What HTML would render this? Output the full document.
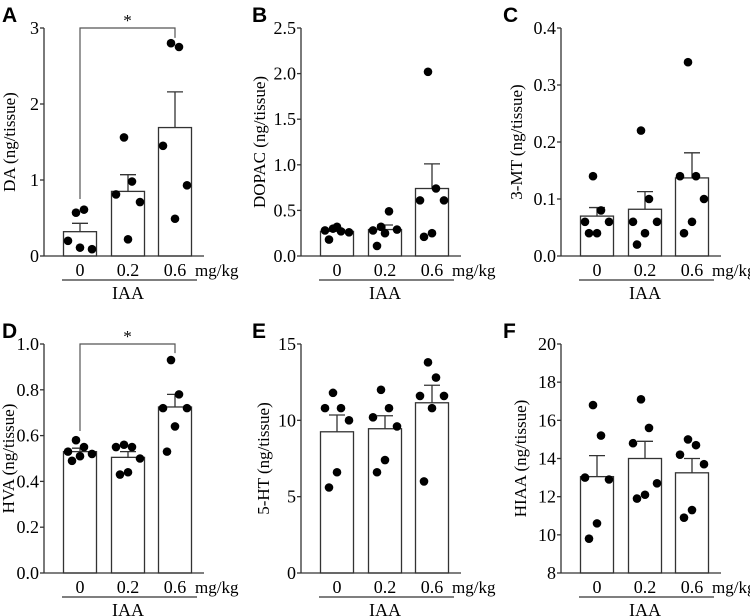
<!DOCTYPE html>
<html><head><meta charset="utf-8"><style>
body{margin:0;background:#fff;}
svg{display:block;font-family:"Liberation Serif",serif;}
.lt{font-family:"Liberation Sans",sans-serif;font-weight:bold;font-size:21px;}
</style></head><body>
<svg id="fig" width="750" height="616" viewBox="0 0 750 616"></svg>
<script>
const categories=["0","0.2","0.6"];
const panelLetters=["A","B","C","D","E","F"];
const yTitles=["DA (ng/tissue)","DOPAC (ng/tissue)","3-MT (ng/tissue)","HVA (ng/tissue)","5-HT (ng/tissue)","HIAA (ng/tissue)"];
const yMins=[0,0,0,0,0,8];
const yMaxs=[3,2.5,0.4,1.0,15,20];
const yTicksA=["0","1","2","3"];
const yTicksB=["0.0","0.5","1.0","1.5","2.0","2.5"];
const yTicksC=["0.0","0.1","0.2","0.3","0.4"];
const yTicksD=["0.0","0.2","0.4","0.6","0.8","1.0"];
const yTicksE=["0","5","10","15"];
const yTicksF=["8","10","12","14","16","18","20"];
const meansA=[0.32,0.85,1.69], semA=[0.11,0.22,0.47];
const meansB=[0.27,0.29,0.74], semB=[0.02,0.05,0.27];
const meansC=[0.07,0.082,0.137], semC=[0.015,0.031,0.044];
const meansD=[0.53,0.505,0.725], semD=[0.015,0.025,0.055];
const meansE=[9.25,9.45,11.15], semE=[1.1,0.85,1.15];
const meansF=[13.05,14.0,13.25], semF=[1.1,0.9,0.75];
const ptsA=[[0.57,0.61,0.2,0.09,0.11],[1.56,0.98,0.81,0.71,0.22],[2.8,2.75,1.45,0.93,0.49]];
const ptsB=[[0.3,0.27,0.28,0.26,0.32,0.18],[0.32,0.49,0.28,0.29,0.25,0.11],[2.02,0.74,0.61,0.61,0.25,0.21]];
const ptsC=[[0.14,0.08,0.06,0.06,0.04,0.04],[0.22,0.1,0.06,0.06,0.04,0.02],[0.34,0.14,0.14,0.1,0.06,0.04]];
const ptsD=[[0.58,0.55,0.53,0.52,0.51,0.49],[0.56,0.55,0.55,0.5,0.44,0.43],[0.93,0.78,0.72,0.72,0.64,0.53]];
const ptsE=[[11.8,10.8,10.8,10,6.6,5.6],[12,10.8,10.2,9.6,7.4,6.6],[13.8,12.8,11.6,11.6,10.8,6]];
const ptsF=[[16.8,15.2,13,12.9,10.6,9.8],[17.1,15.6,14.8,12.7,12.1,11.9],[15,14.7,14.2,13.7,11.3,10.9]];
const sigFrom=[0,null,null,0,null,null], sigTo=[2,null,null,2,null,null];
const sigLeft=[0.75,null,null,0.62,null,null], sigRight=[2.87,null,null,0.96,null,null];

const allTicks=[yTicksA,yTicksB,yTicksC,yTicksD,yTicksE,yTicksF];
const allMeans=[meansA,meansB,meansC,meansD,meansE,meansF];
const allSem=[semA,semB,semC,semD,semE,semF];
const allPts=[ptsA,ptsB,ptsC,ptsD,ptsE,ptsF];
const NS="http://www.w3.org/2000/svg";
const svg=document.getElementById('fig');
function mk(tag,attrs,parent,text){const e=document.createElementNS(NS,tag);for(const k in attrs)e.setAttribute(k,attrs[k]);if(text!=null)e.textContent=text;parent.appendChild(e);return e;}
const colX=[44,301,561], rowTop=[28,344], rowBot=[256,573];
const letterX=[2,252,503];
const titleOff=[-29,-36,-39,-30,-32,-35];
const barOff=[36,84,131], barW=33;
const jit=[-4,4,-12,12,0,-8];
for(let p=0;p<6;p++){
  const ax=colX[p%3], top=rowTop[Math.floor(p/3)], bot=rowBot[Math.floor(p/3)];
  const y0=yMins[p], y1=yMaxs[p];
  const Y=v=>bot-(v-y0)/(y1-y0)*(bot-top);
  const X=i=>ax+barOff[i];
  const g=mk('g',{},svg);
  
  
  const lt=mk('text',{x:letterX[p%3],y:top-6,class:'lt'},g,panelLetters[p]);
  
  
  for(let i=0;i<3;i++){
    const m=allMeans[p][i], s=allSem[p][i];
    const r=mk('rect',{x:X(i)-barW/2,y:Y(m),width:barW,height:bot-Y(m),fill:'#fff',stroke:'#333','stroke-width':1.3},g);
    
    
    const e=mk('path',{d:`M${X(i)},${Y(m)}V${Y(m+s)}M${X(i)-8},${Y(m+s)}H${X(i)+8}`,stroke:'#333','stroke-width':1.3,fill:'none'},g);
    
    
    allPts[p][i].forEach((v,k)=>{
      const c=mk('circle',{cx:X(i)+jit[k],cy:Y(v),r:4.3,fill:'#000'},g);
      
      
    });
  }
  const ya=mk('line',{x1:ax,y1:top,x2:ax,y2:bot,stroke:'#333','stroke-width':1.3},g);
  
  
  const xa=mk('line',{x1:ax,y1:bot,x2:ax+160,y2:bot,stroke:'#333','stroke-width':1.3},g);
  
  
  allTicks[p].forEach(t=>{
    const yy=Y(parseFloat(t));
    mk('line',{x1:ax-4,y1:yy,x2:ax,y2:yy,stroke:'#333','stroke-width':1.3},g);
    const tl=mk('text',{x:ax-5,y:yy+6,'text-anchor':'end','font-size':18},g,t);
    
    
  });
  categories.forEach((c,i)=>{
    const tl=mk('text',{x:X(i),y:bot+20,'text-anchor':'middle','font-size':18},g,c);
    
    
  });
  const u=mk('text',{x:ax+151,y:bot+20,'font-size':17},g,'mg/kg');
  
  
  mk('line',{x1:ax+18,y1:bot+24,x2:ax+153,y2:bot+24,stroke:'#333','stroke-width':1.3},g);
  const ia=mk('text',{x:ax+84,y:bot+43,'text-anchor':'middle','font-size':18},g,'IAA');
  
  
  const yt=mk('text',{x:0,y:0,'text-anchor':'middle','font-size':17,transform:`translate(${ax+titleOff[p]},${(top+bot)/2}) rotate(-90)`},g,yTitles[p]);
  
  
  if(sigFrom[p]!=null){
    const a=X(sigFrom[p]), b=X(sigTo[p]);
    const sb=mk('path',{d:`M${a},${Y(sigLeft[p])}V${top}H${b}V${Y(sigRight[p])}`,stroke:'#555','stroke-width':1.2,fill:'none'},g);
    
    
    const st=mk('text',{x:(a+b)/2,y:top-2,'text-anchor':'middle','font-size':17},g,'*');
    
    
  }
}
</script>
</body></html>
